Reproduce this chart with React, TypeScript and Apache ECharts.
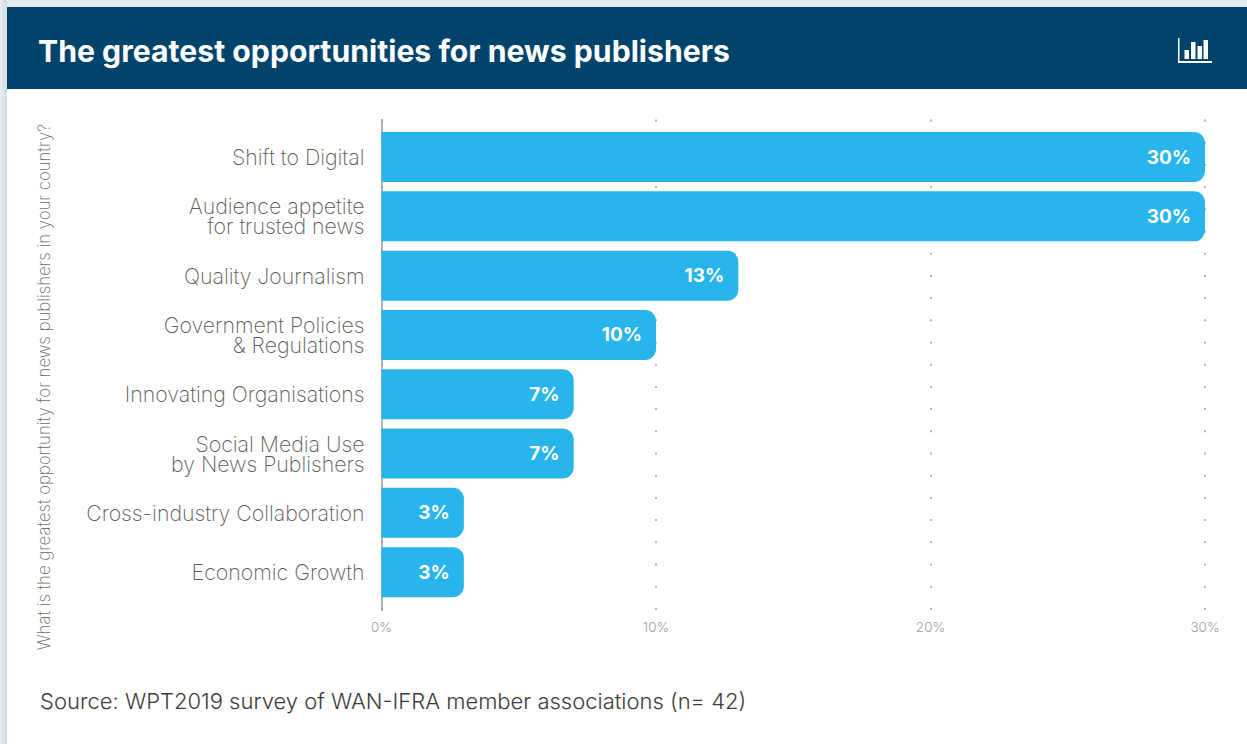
import React, { useEffect, useRef } from "react";
import * as echarts from "echarts";

const categories = [
  "Shift to Digital",
  "Audience appetite\nfor trusted news",
  "Quality Journalism",
  "Government Policies\n& Regulations",
  "Innovating Organisations",
  "Social Media Use\nby News Publishers",
  "Cross-industry Collaboration",
  "Economic Growth",
];
const values = [30, 30, 13, 10, 7, 7, 3, 3];
const titleText = "The greatest opportunities for news publishers";
const sourceText = "Source: WPT2019 survey of WAN-IFRA member associations (n= 42)";
const yAxisTitle = "What is the greatest opportunity for news publishers in your country?";
const iconBars = [[1184.5, 50, 4.5, 9], [1191, 42, 4.5, 17], [1197.5, 46, 4.5, 13], [1203.5, 40, 4.5, 19]];
const FONT = "Inter, 'Open Sans', sans-serif";

export default function App() {
  const ref = useRef<HTMLDivElement>(null);
  useEffect(() => {
    document.body.style.margin = "0";
    const chart = echarts.init(ref.current!, null, { renderer: "svg" });
    chart.setOption({
      animation: false,
      backgroundColor: "#ffffff",
      grid: [
        { left: 381.5, right: 42, top: 127.4, height: 474.4, containLabel: false },
        { left: 381.5, right: 42, top: 119.5, height: 491 },
      ],
      xAxis: [
        { gridIndex: 0, type: "value", min: 0, max: 30, show: false },
        {
          gridIndex: 1, type: "value", min: 0, max: 30, interval: 10,
          axisLine: { show: false }, axisTick: { show: false },
          axisLabel: { color: "#a0a0a0", fontFamily: FONT, fontSize: 13.5, fontWeight: 300, margin: 9, formatter: "{value}%", hideOverlap: false, alignMinLabel: "center", alignMaxLabel: "center" },
          splitLine: { show: true, lineStyle: { color: "#b4b4b4", width: 2, type: [2, 20.2] } },
        },
      ],
      yAxis: [
        {
          gridIndex: 0, type: "category", data: categories, inverse: true,
          axisLine: { show: false }, axisTick: { show: false },
          axisLabel: { color: "#5a5a5a", fontFamily: FONT, fontSize: 21.3, fontWeight: 200, margin: 17, lineHeight: 20, align: "right" },
        },
        {
          gridIndex: 1, type: "value", min: 0, max: 1, position: "left",
          axisLine: { show: true, onZero: false, lineStyle: { color: "#999999", width: 1.5 } },
          axisTick: { show: false }, axisLabel: { show: false }, splitLine: { show: false },
        },
      ],
      series: [
        {
          type: "bar", xAxisIndex: 0, yAxisIndex: 0, data: values, barWidth: 50, z: 5,
          itemStyle: { color: "#27b5ec", borderRadius: [0, 11, 11, 0] },
          label: { show: true, position: "insideRight", distance: 14, formatter: "{c}%", color: "#ffffff", fontFamily: FONT, fontSize: 19, fontWeight: "bold" },
        },
      ],
      graphic: [
        { type: "rect", z: -10, silent: true, shape: { x: 0, y: 0, width: 1247, height: 7 }, style: { fill: "#e4ebf2" } },
        { type: "rect", z: -10, silent: true, shape: { x: 0, y: 0, width: 7, height: 744 }, style: { fill: new echarts.graphic.LinearGradient(0, 0, 1, 0, [{ offset: 0, color: "#e9eef3" }, { offset: 1, color: "#d0dae1" }]) } },
        { type: "rect", z: 1, silent: true, shape: { x: 7, y: 7, width: 1240, height: 82 }, style: { fill: "#00446b" } },
        { type: "text", z: 2, x: 38, y: 51, style: { text: titleText, fill: "#ffffff", font: `bold 30.2px ${FONT}`, textVerticalAlign: "middle" } },
        { type: "text", z: 2, x: 40, y: 700.5, style: { text: sourceText, fill: "#3c3c3c", font: `300 22px ${FONT}`, textVerticalAlign: "middle" } },
        { type: "text", z: 2, x: 44, y: 387, rotation: Math.PI / 2, style: { text: yAxisTitle, fill: "#6a6a6a", font: `200 16.75px ${FONT}`, textAlign: "center", textVerticalAlign: "middle" } },
        { type: "rect", z: 2, silent: true, shape: { x: 1178, y: 38, width: 1.5, height: 25 }, style: { fill: "#ffffff" } },
        { type: "rect", z: 2, silent: true, shape: { x: 1178, y: 61, width: 34, height: 2 }, style: { fill: "#ffffff" } },
        ...iconBars.map(([x, y, width, height]) => ({ type: "rect", z: 2, silent: true, shape: { x, y, width, height }, style: { fill: "#ffffff" } })),
      ],
    });
    return () => chart.dispose();
  }, []);
  return <div ref={ref} style={{ width: 1247, height: 744 }} />;
}
